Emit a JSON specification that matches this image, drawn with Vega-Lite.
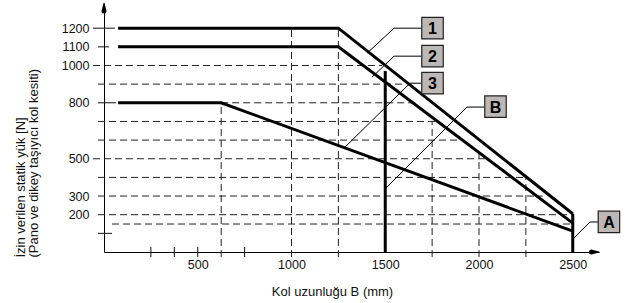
{
  "$schema": "https://vega.github.io/schema/vega-lite/v6.json",
  "width": 495,
  "height": 249,
  "autosize": {"type": "none"},
  "padding": {"left": 104, "top": 3, "right": 28, "bottom": 51},
  "background": "white",
  "config": {
    "view": {"stroke": null},
    "font": "Liberation Sans",
    "axis": {"labelFont": "Liberation Sans", "titleFont": "Liberation Sans", "labelColor": "#111", "titleColor": "#111", "domainColor": "#000", "domainWidth": 1}
  },
  "datasets": {
    "curves": [
      {"id": "1", "b": 75, "f": 1200}, {"id": "1", "b": 1250, "f": 1200}, {"id": "1", "b": 2500, "f": 205},
      {"id": "2", "b": 75, "f": 1100}, {"id": "2", "b": 1250, "f": 1100}, {"id": "2", "b": 2500, "f": 155},
      {"id": "3", "b": 75, "f": 800}, {"id": "3", "b": 625, "f": 800}, {"id": "3", "b": 2500, "f": 112}
    ],
    "hgrid": [
      {"f": 1000, "b": -59, "b2": 1483},
      {"f": 900, "b": -32, "b2": 1600},
      {"f": 800, "b": 625, "b2": 1660},
      {"f": 700, "b": -32, "b2": 1781},
      {"f": 600, "b": -32, "b2": 1915},
      {"f": 500, "b": -59, "b2": 2045},
      {"f": 400, "b": -32, "b2": 2245},
      {"f": 300, "b": -32, "b2": 2340},
      {"f": 200, "b": -32, "b2": 2500},
      {"f": 150, "b": 43, "b2": 2500}
    ],
    "vgrid": [
      {"b": 625, "f": -27, "f2": 800},
      {"b": 1000, "f": -27, "f2": 1200},
      {"b": 1250, "f": -27, "f2": 1200},
      {"b": 1750, "f": -27, "f2": 700},
      {"b": 2000, "f": -27, "f2": 540},
      {"b": 2250, "f": -27, "f2": 400}
    ],
    "yticks": [
      {"f": 1200, "b": -59, "b2": 59},
      {"f": 1100, "b": -32, "b2": 27},
      {"f": 800, "b": -32, "b2": 64},
      {"f": 100, "b": -32, "b2": 43}
    ],
    "xticks": [
      {"b": 250, "f": -27, "f2": 27},
      {"b": 375, "f": -27, "f2": 27},
      {"b": 500, "f": -27, "f2": 27},
      {"b": 750, "f": -27, "f2": 27}
    ],
    "thick": [
      {"b": 1500, "f": 0, "f2": 970},
      {"b": 2500, "f": 0, "f2": 205}
    ],
    "leaders": [
      {"id": "1", "o": 1, "b": 1691, "f": 1200}, {"id": "1", "o": 2, "b": 1547, "f": 1200}, {"id": "1", "o": 3, "b": 1403, "f": 1066},
      {"id": "2", "o": 1, "b": 1691, "f": 1050}, {"id": "2", "o": 2, "b": 1547, "f": 1050}, {"id": "2", "o": 3, "b": 1429, "f": 937},
      {"id": "3", "o": 1, "b": 1691, "f": 905}, {"id": "3", "o": 2, "b": 1632, "f": 905}, {"id": "3", "o": 3, "b": 1285, "f": 562},
      {"id": "B", "o": 1, "b": 2027, "f": 777}, {"id": "B", "o": 2, "b": 1936, "f": 777}, {"id": "B", "o": 3, "b": 1504, "f": 343},
      {"id": "A", "o": 1, "b": 2635, "f": 161}, {"id": "A", "o": 2, "b": 2592, "f": 161}, {"id": "A", "o": 3, "b": 2501, "f": 70}
    ],
    "boxes": [
      {"lab": "1", "b": 1752, "f": 1200},
      {"lab": "2", "b": 1752, "f": 1050},
      {"lab": "3", "b": 1752, "f": 905},
      {"lab": "B", "b": 2088, "f": 779},
      {"lab": "A", "b": 2693, "f": 161}
    ],
    "arrows": [
      {"id": "up", "o": 1, "b": 0, "f": 1292, "w": 5},
      {"id": "up", "o": 2, "b": 0, "f": 1333, "w": 0},
      {"id": "right", "o": 1, "b": 2600, "f": 0, "w": 5},
      {"id": "right", "o": 2, "b": 2640, "f": 0, "w": 0}
    ]
  },
  "encoding": {
    "x": {
      "field": "b", "type": "quantitative",
      "scale": {"domain": [0, 2640], "nice": false, "zero": false},
      "axis": {
        "values": [500, 1000, 1500, 2000, 2500], "format": "d", "ticks": false, "grid": false,
        "labelFontSize": 12.5, "labelPadding": 6,
        "title": "Kol uzunluğu B (mm)", "titleFontSize": 13, "titleFontWeight": "normal",
        "titleX": 228, "titleY": 39, "titleBaseline": "middle", "titleAlign": "center"
      }
    },
    "y": {
      "field": "f", "type": "quantitative",
      "scale": {"domain": [0, 1335], "nice": false, "zero": false},
      "axis": {
        "values": [200, 300, 500, 800, 1000, 1100, 1200], "format": "d", "ticks": false, "grid": false,
        "labelFontSize": 12.5, "labelPadding": 15,
        "title": ["İzin verilen statik yük [N]", "(Pano ve dikey taşıyıcı kol kesiti)"],
        "titleFontSize": 13, "titleFontWeight": "normal", "titleAngle": 270,
        "titleAlign": "left", "titleBaseline": "bottom", "titleX": -77, "titleY": 254, "titleLineHeight": 13
      }
    }
  },
  "layer": [
    {
      "data": {"name": "hgrid"},
      "mark": {"type": "rule", "stroke": "#222", "strokeWidth": 1, "strokeDash": [7, 4], "clip": false},
      "encoding": {"x2": {"field": "b2"}}
    },
    {
      "data": {"name": "vgrid"},
      "mark": {"type": "rule", "stroke": "#222", "strokeWidth": 1, "strokeDash": [7, 4], "clip": false},
      "encoding": {"y2": {"field": "f2"}}
    },
    {
      "data": {"name": "yticks"},
      "mark": {"type": "rule", "stroke": "#111", "strokeWidth": 1, "clip": false},
      "encoding": {"x2": {"field": "b2"}}
    },
    {
      "data": {"name": "xticks"},
      "mark": {"type": "rule", "stroke": "#111", "strokeWidth": 1, "clip": false},
      "encoding": {"y2": {"field": "f2"}}
    },
    {
      "data": {"name": "curves"},
      "mark": {"type": "line", "stroke": "#000", "strokeWidth": 3, "strokeCap": "butt", "strokeJoin": "miter", "clip": false},
      "encoding": {"detail": {"field": "id"}}
    },
    {
      "data": {"name": "thick"},
      "mark": {"type": "rule", "stroke": "#000", "strokeWidth": 3, "strokeCap": "butt", "clip": false},
      "encoding": {"y2": {"field": "f2"}}
    },
    {
      "data": {"name": "leaders"},
      "mark": {"type": "line", "stroke": "#000", "strokeWidth": 1, "clip": false},
      "encoding": {"detail": {"field": "id"}, "order": {"field": "o", "type": "quantitative"}}
    },
    {
      "data": {"name": "boxes"},
      "mark": {"type": "point", "shape": "square", "size": 462, "filled": true, "fill": "#bcb8b5", "stroke": "#222", "strokeWidth": 1.2, "opacity": 1, "clip": false},
      "encoding": {}
    },
    {
      "data": {"name": "boxes"},
      "mark": {"type": "text", "fontSize": 16, "fontWeight": "bold", "font": "Liberation Sans", "align": "center", "baseline": "middle", "dy": 1, "color": "#000", "clip": false},
      "encoding": {"text": {"field": "lab"}}
    },
    {
      "data": {"name": "arrows"},
      "mark": {"type": "trail", "color": "#000", "opacity": 1, "clip": false},
      "encoding": {
        "detail": {"field": "id"},
        "order": {"field": "o", "type": "quantitative"},
        "size": {"field": "w", "type": "quantitative", "scale": {"domain": [0, 5], "range": [0, 5], "zero": true}, "legend": null}
      }
    }
  ]
}
